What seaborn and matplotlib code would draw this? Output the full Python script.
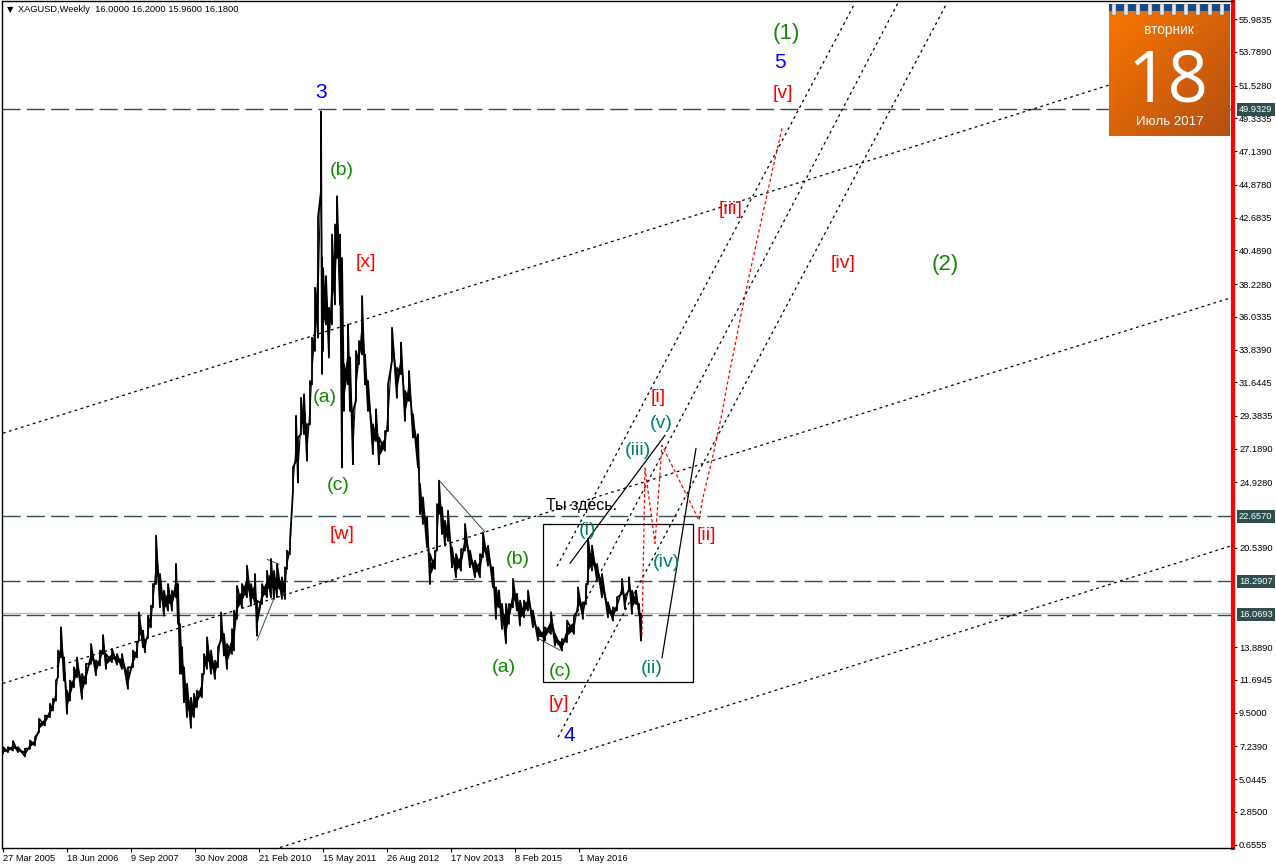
import numpy as np
import pandas as pd
import matplotlib.pyplot as plt
from matplotlib.patches import Rectangle
import seaborn as sns

sns.set_theme(style="white")
plt.rcParams['font.family'] = ['Liberation Sans', 'DejaVu Sans']

bar_weeks = [0, 5, 10, 15, 22, 27, 32, 36, 42, 47, 50, 53, 55, 58, 61, 64, 67, 71, 74, 79, 83, 88, 93, 97, 100, 103,
             109, 114, 119, 125, 130, 134, 136, 140, 142, 145, 148, 150, 153, 157, 161, 165, 169, 173, 175, 177, 179,
             181, 184, 188, 191, 194, 199, 201, 204, 208, 212, 215, 218, 221, 224, 229, 231, 234, 239, 244, 248, 252,
             254, 259, 264, 268, 271, 274, 279, 282, 284, 287,
             290, 293, 295, 298, 301, 304, 307, 309, 312, 315, 318, 319, 320, 323, 326, 329, 332, 334, 337, 339, 341,
             345, 347, 350, 353, 356, 359, 362, 365, 370, 373, 376, 382, 385, 389, 394, 398, 402, 406, 410, 415,
             417, 420, 424, 427, 432, 434, 436, 439, 442, 445, 449, 453, 458, 462, 467, 472, 477, 480, 485, 490, 493,
             496, 499, 503, 506, 510, 514, 517, 521, 525, 530, 535, 542, 548, 552, 559, 564, 571, 575, 580, 583, 585,
             589, 594, 599, 605, 610, 614, 619, 622, 626, 629, 633, 636, 638]
bar_lows = [6.74, 6.85, 6.96, 6.85, 6.56, 7.08, 7.3, 8.19, 8.64, 9.2, 9.64, 10.3, 11.87, 13.2, 11.65, 9.42, 10.3, 11.2,
            11.87, 10.42, 11.43, 12.77, 12.0, 12.66, 13.43, 12.43, 12.88, 12.72, 12.43, 11.09, 12.54, 13.2, 14.33,
            13.88, 13.55, 14.55, 15.22, 16.56, 18.12, 16.56, 16.0, 16.33, 16.33, 17.23, 15.44, 12.1, 12.1, 10.2, 9.2,
            8.48, 9.2, 9.87, 10.53, 12.1, 12.43, 12.1, 11.76, 12.54, 14.33, 13.32, 12.43, 13.43, 13.66, 15.78, 16.56,
            17.23, 16.67, 16.78, 14.66, 16.78, 17.23, 17.23, 17.12, 17.23, 17.12, 17.12, 19.12, 20.13,
            24.37, 26.38, 24.93, 28.16, 28.16, 26.38, 28.83, 31.5, 33.74, 34.63, 44.45, 32.2, 33.74, 35.52, 33.3,
            35.52, 36.86, 39.98, 36.86, 25.93, 29.72, 31.5, 29.72, 26.15, 30.39, 32.85, 33.5, 31.5, 29.72, 26.82,
            27.71, 26.15, 27.05, 28.38, 33.07, 30.6, 32.18, 29.05, 30.39, 27.94, 25.93,
            22.81, 22.14, 20.58, 18.12, 19.13, 20.36, 22.81, 21.47, 20.69, 21.0, 19.24, 18.57, 19.02, 20.36, 19.24,
            18.57, 18.57, 19.91, 19.35, 17.9, 15.78, 16.56, 15.11, 14.15, 15.45, 16.56, 16.34, 15.34, 15.89, 16.34,
            15.22, 14.33, 14.33, 14.78, 14.0, 13.66, 14.22, 14.78, 16.34, 15.78, 16.78, 18.12, 19.02, 18.35, 17.23,
            15.89, 15.67, 16.34, 17.46, 16.45, 17.68, 16.12, 16.78, 16.12, 14.33]
bar_highs = [7.19, 7.19, 7.59, 7.19, 7.08, 7.63, 7.86, 9.08, 9.31, 10.09, 10.42, 11.65, 13.66, 15.22, 13.2, 10.98, 11.65,
             12.54, 13.2, 12.1, 12.77, 14.1, 13.0, 13.66, 14.7, 13.43, 13.77, 13.43, 13.43, 12.54, 13.66, 14.2, 16.22,
             15.0, 14.33, 16.0, 16.67, 18.12, 21.36, 18.79, 17.67, 18.12, 17.67, 19.46, 18.12, 15.44, 13.88, 12.54,
             11.43, 10.5, 10.76, 10.98, 12.1, 13.43, 14.55, 13.66, 12.99, 13.88, 16.22, 14.77, 14.1, 15.1, 16.33, 18.0,
             18.12, 19.35, 18.12, 18.79, 17.0, 18.12, 19.0, 19.8, 19.0, 19.46, 18.57, 19.24, 20.35, 21.02,
             25.93, 29.39, 27.94, 30.6, 30.84, 28.83, 31.73, 34.63, 37.98, 42.66, 49.8, 40.0, 39.3, 38.76, 36.64,
             41.55, 42.22, 44.11, 41.55, 39.98, 32.85, 35.52, 33.3, 29.72, 33.74, 34.41, 37.42, 33.5, 31.73, 28.83,
             29.83, 27.94, 28.38, 31.5, 35.3, 32.62, 34.3, 31.06, 32.4, 29.5, 28.16,
             24.82, 23.93, 22.59, 20.13, 20.36, 23.48, 25.04, 23.26, 22.36, 23.03, 20.58, 20.13, 20.47, 22.14, 20.36,
             19.69, 20.13, 21.58, 20.69, 19.24, 17.9, 17.68, 16.79, 16.79, 16.79, 18.46, 17.46, 17.01, 17.01, 17.68,
             16.34, 15.22, 15.22, 16.23, 14.78, 14.44, 15.67, 16.0, 17.9, 16.9, 18.12, 21.14, 20.69, 19.46, 18.79,
             16.9, 16.56, 17.23, 18.46, 17.34, 18.57, 17.68, 17.68, 16.78, 16.12]

# price axis
price_ticks = [55.9835, 53.7890, 51.5280, 49.3335, 47.1390, 44.8780, 42.6835, 40.4890, 38.2280, 36.0335, 33.8390,
               31.6445, 29.3835, 27.1890, 24.9280, 20.5390, 13.8890, 11.6945, 9.5000, 7.2390, 5.0445, 2.8500, 0.6555]
level_prices = [49.9329, 22.6570, 18.2907, 16.0693]
bid_price = 16.18

# time axis
date_weeks = [0, 64, 128, 192, 256, 320, 384, 448, 512, 576]
date_labels = ['27 Mar 2005', '18 Jun 2006', '9 Sep 2007', '30 Nov 2008', '21 Feb 2010', '15 May 2011',
               '26 Aug 2012', '17 Nov 2013', '8 Feb 2015', '1 May 2016']

# dotted channel lines: week from, week to, price from, price to
channel_x0 = [0, 0, 277, 554, 555, 575]
channel_x1 = [1230, 1230, 1230, 852, 944, 895]
channel_y0 = [28.23, 11.46, 0.46, 19.31, 7.85, 16.02]
channel_y1 = [54.18, 37.35, 20.72, 57.07, 57.07, 57.07]

# solid black lines
solid_x0 = [567, 659]
solid_x1 = [662, 693]
solid_y0 = [19.51, 13.17]
solid_y1 = [28.09, 27.22]

# thin slate lines
thin_x0 = [436, 450, 535, 548, 254, 264]
thin_x1 = [482, 471, 557, 555, 271, 276]
thin_y0 = [25.08, 18.44, 14.48, 15.91, 14.35, 19.78]
thin_y1 = [21.61, 18.44, 13.68, 14.01, 17.16, 19.44]

# red forecast path
red_weeks = [639, 642, 652, 659, 696, 700, 709, 719, 725, 742, 765, 779]
red_prices = [14.68, 25.88, 20.85, 27.42, 22.39, 23.94, 26.42, 29.57, 31.78, 37.48, 44.53, 48.68]

# "you are here" box
box_weeks = [540.3, 690.3]
box_prices = [11.53, 22.17]

# wave labels
RED = '#ff0000'
BLUE = '#0000ff'
GREEN = '#118a00'
TEAL = '#00806a'
label_texts = ['(1)', '5', '[v]', '3', '(b)', '[x]', '(a)', '(c)', '[w]', '[iii]', '[iv]', '(2)', '[i]', '(v)', '(iii)',
               '(i)', '[ii]', '(iv)', '(b)', '(a)', '(c)', '(ii)', '[y]', '4']
label_weeks = [783, 777, 780, 318, 339, 363, 322, 335, 339, 728, 840, 942, 655, 658, 635, 584, 703, 663, 515, 501, 557,
               649, 556, 566]
label_prices = [55.03, 53.1, 51.01, 51.08, 45.86, 39.7, 30.6, 24.7, 21.42, 43.24, 39.63, 39.56, 30.6, 28.85, 27.05,
                21.69, 21.36, 19.55, 19.75, 12.52, 12.25, 12.46, 10.11, 7.97]
label_colors = [GREEN, BLUE, RED, BLUE, GREEN, RED, GREEN, GREEN, RED, RED, RED, GREEN, RED, TEAL, TEAL,
                TEAL, RED, TEAL, GREEN, GREEN, GREEN, TEAL, RED, BLUE]
label_sizes = [16, 15, 14, 15, 14, 14, 14, 14, 14, 14, 14, 16, 14, 14, 14, 14, 14, 14, 14, 14, 14, 14, 14, 15]

W, H = 1276, 868
fig = plt.figure(figsize=(W / 100, H / 100), dpi=100, facecolor='white')
ax = fig.add_axes([2.5 / W, 1 - 847.5 / H, (1233 - 2.5) / W, (847.5 - 1) / H])
ax.set_xlim(-0.5, 1230)
ax.set_ylim(0.46, 57.2)

# price levels sit under everything else
ax.axhline(bid_price, color='#c0c0c0', lw=1, zorder=1)
for level in level_prices:
    ax.axhline(level, color='#2f4f4f', lw=1, dashes=(13, 4.5), zorder=1)

for i in range(len(channel_x0)):
    sns.lineplot(x=[channel_x0[i], channel_x1[i]], y=[channel_y0[i], channel_y1[i]], ax=ax, color='black',
                 lw=0.9, linestyle=(0, (2.2, 2.8)), zorder=2, legend=False)
for i in range(len(solid_x0)):
    sns.lineplot(x=[solid_x0[i], solid_x1[i]], y=[solid_y0[i], solid_y1[i]], ax=ax, color='black', lw=0.9, zorder=2,
                 legend=False)
for i in range(len(thin_x0)):
    sns.lineplot(x=[thin_x0[i], thin_x1[i]], y=[thin_y0[i], thin_y1[i]], ax=ax, color='#2f4f4f', lw=0.7, zorder=2,
                 legend=False)
ax.add_patch(Rectangle((box_weeks[0], box_prices[0]), box_weeks[1] - box_weeks[0], box_prices[1] - box_prices[0],
                       fill=False, ec='black', lw=0.9, zorder=2))

# every bar goes low -> high, joined to the next one; the band is the solid core of the bar mass
rows = []
for w, lo, hi in zip(bar_weeks, bar_lows, bar_highs):
    rows.append({'week': w, 'price': lo})
    rows.append({'week': w, 'price': hi})
bars = pd.DataFrame(rows)
lows = np.array(bar_lows)
highs = np.array(bar_highs)
spread = highs - lows
ax.fill_between(bar_weeks, lows + 0.3 * spread, highs - 0.3 * spread, color='black', lw=0, zorder=3)
sns.lineplot(data=bars, x='week', y='price', ax=ax, color='black', lw=1.3, sort=False, estimator=None, zorder=3,
             legend=False)

sns.lineplot(x=red_weeks, y=red_prices, ax=ax, color=RED, lw=0.9, sort=False, estimator=None,
             linestyle=(0, (2.6, 2)), zorder=4, legend=False)

for txt, w, p, c, s in zip(label_texts, label_weeks, label_prices, label_colors, label_sizes):
    ax.text(w, p, txt, color=c, fontsize=s, ha='center', va='center', zorder=5)
ax.text(543, 23.37, 'Ты здесь.', color='black', fontsize=11.5, ha='left', va='center', zorder=5)

# axes styling, MT4 look
for side in ['left', 'top', 'bottom']:
    ax.spines[side].set_color('black')
    ax.spines[side].set_linewidth(1)
ax.spines['right'].set_color(RED)
ax.spines['right'].set_linewidth(3)
ax.yaxis.tick_right()
ax.set_yticks(price_ticks)
ax.set_yticklabels([f'{p:.4f}' for p in price_ticks], fontsize=6.7, color='black')
ax.set_xticks(date_weeks)
ax.set_xticklabels(date_labels, fontsize=6.7, color='black', ha='left')
ax.tick_params(axis='y', length=3, width=0.8, pad=1.4, color='black', right=True, left=False)
ax.tick_params(axis='x', length=3, width=0.8, pad=1.5, color='black', bottom=True)
ax.set_xlabel('')
ax.set_ylabel('')

# level tags to the right of the price scale
for level in level_prices:
    ax.text(1236, level, f'{level:.4f}', color='white', fontsize=6.7, ha='left', va='center',
            clip_on=False, zorder=6,
            bbox=dict(boxstyle='square,pad=0.25', fc='#2f4f4f', ec='none'))

fig.text(18 / W, 1 - 9.5 / H, 'XAGUSD,Weekly  16.0000 16.2000 15.9600 16.1800', fontsize=6.7, color='black',
         va='center', ha='left')
fig.text(7 / W, 1 - 9.5 / H, '▼', fontsize=6, color='black', va='center', ha='left', family='DejaVu Sans')

# calendar badge in the top right corner
cal = fig.add_axes([1109 / W, 1 - 136.5 / H, 121 / W, 132.5 / H])
cal.set_xlim(1109, 1230)
cal.set_ylim(136.5, 4)
cal.axis('off')
gx, gy = np.meshgrid(np.linspace(0, 1, 60), np.linspace(0, 1, 60))
shade = (gx + gy) / 2
start = np.array([0.98, 0.47, 0.0])
end = np.array([0.71, 0.31, 0.07])
grad = start[None, None, :] + shade[:, :, None] * (end - start)[None, None, :]
cal.imshow(grad, extent=(1109, 1230, 136.5, 4), aspect='auto', zorder=1)
cal.add_patch(Rectangle((1109, 4), 121, 6.5, fc='#174a85', ec='none', zorder=2))
for rx in range(1112, 1228, 12):
    cal.add_patch(Rectangle((rx, 4), 4, 11, fc='#e6e6e6', ec='#666666', lw=0.3, zorder=3))
cal.text(1168.5, 30, 'вторник', color='white', fontsize=9.8, ha='center', va='center', zorder=4)
cal.text(1168.5, 102, '18', color='white', fontsize=51, ha='center', va='baseline', zorder=4, family='Open Sans')
cal.text(1170, 122, 'Июль 2017', color='white', fontsize=9.6, ha='center', va='center', zorder=4)

plt.savefig('out.png', dpi=100)
plt.close()
